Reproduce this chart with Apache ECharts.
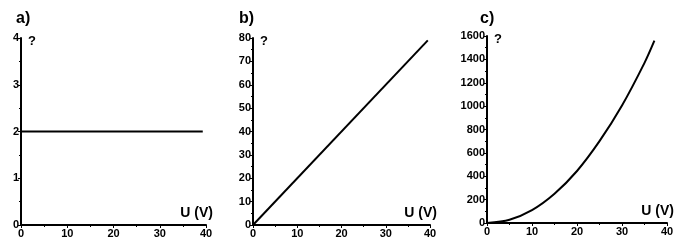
<!DOCTYPE html>
<html><head><meta charset="utf-8">
<script src="https://cdn.jsdelivr.net/npm/echarts@6/dist/echarts.min.js"></script>
<style>html,body{margin:0;padding:0;background:#fff}#c{width:685px;height:245px}</style>
</head><body><div id="c"></div>
<script>
// Data
const panelLabels = ['a)', 'b)', 'c)'];
const xTicksMax = 40;
const uA = [0, 39.3];
const valuesA = [2, 2];
const uB = [0, 39.5];
const valuesB = [0, 79];
const uC = [0, 5, 10, 15, 20, 25, 30, 35, 37.2];
const valuesC = [0, 28, 110, 250, 445, 700, 1005, 1370, 1560];
const yMax = [4, 80, 1600];
const yInterval = [1, 10, 200];

const grids = [
  {left: 21, width: 185, top: 38, height: 187},
  {left: 253, width: 177, top: 38, height: 187},
  {left: 487, width: 180, top: 36, height: 187}
];
const font = 'Liberation Sans, Arial, sans-serif';
function xAxis(i) {
  return {
    type: 'value', gridIndex: i, min: 0, max: xTicksMax, interval: 10,
    axisLine: {show: true, onZero: false, lineStyle: {color: '#000', width: 2}},
    axisTick: {show: true, inside: false, length: 3, lineStyle: {color: '#000', width: 1}},
    minorTick: {show: true, splitNumber: 2, length: 2, lineStyle: {color: '#000'}},
    axisLabel: {color: '#000', fontFamily: font, fontSize: 11, fontWeight: 'bold', margin: 3, showMaxLabel: true, showMinLabel: true, formatter: v => String(v)},
    splitLine: {show: false},
    name: 'U (V)', nameLocation: 'end', nameGap: 0,
    nameTextStyle: {color: '#000', fontFamily: font, fontSize: 14, fontWeight: 'bold', align: 'right', verticalAlign: 'bottom', padding: [0, -7, 5, 0]}
  };
}
function yAxis(i) {
  return {
    type: 'value', gridIndex: i, min: 0, max: yMax[i], interval: yInterval[i],
    axisLine: {show: true, onZero: false, lineStyle: {color: '#000', width: 2}},
    axisTick: {show: true, inside: false, length: 3, lineStyle: {color: '#000', width: 1}},
    minorTick: {show: true, splitNumber: 2, length: 2, lineStyle: {color: '#000'}},
    axisLabel: {color: '#000', fontFamily: font, fontSize: 11, fontWeight: 'bold', margin: 2, showMaxLabel: true, showMinLabel: true, formatter: v => String(v)},
    splitLine: {show: false},
    name: '?', nameLocation: 'end', nameGap: -3,
    nameTextStyle: {color: '#000', fontFamily: font, fontSize: 13, fontWeight: 'bold', align: 'left', verticalAlign: 'middle', padding: [0, 0, 0, 7]}
  };
}
function pairs(xs, ys) { return xs.map((x, k) => [x, ys[k]]); }
const lineStyle = {color: '#000', width: 2};
const chart = echarts.init(document.getElementById('c'), null, {renderer: 'canvas'});
chart.setOption({
  backgroundColor: '#fff',
  animation: false,
  title: [
    {text: panelLabels[0], left: 11, top: 6},
    {text: panelLabels[1], left: 234, top: 6},
    {text: panelLabels[2], left: 475, top: 6}
  ].map(t => Object.assign(t, {textStyle: {color: '#000', fontFamily: font, fontSize: 16, fontWeight: 'bold'}})),
  grid: grids,
  xAxis: [xAxis(0), xAxis(1), xAxis(2)],
  yAxis: [yAxis(0), yAxis(1), yAxis(2)],
  series: [
    {type: 'line', xAxisIndex: 0, yAxisIndex: 0, data: pairs(uA, valuesA), showSymbol: false, lineStyle},
    {type: 'line', xAxisIndex: 1, yAxisIndex: 1, data: pairs(uB, valuesB), showSymbol: false, lineStyle},
    {type: 'line', xAxisIndex: 2, yAxisIndex: 2, data: pairs(uC, valuesC), showSymbol: false, smooth: 0.3, lineStyle}
  ]
});
</script></body></html>
